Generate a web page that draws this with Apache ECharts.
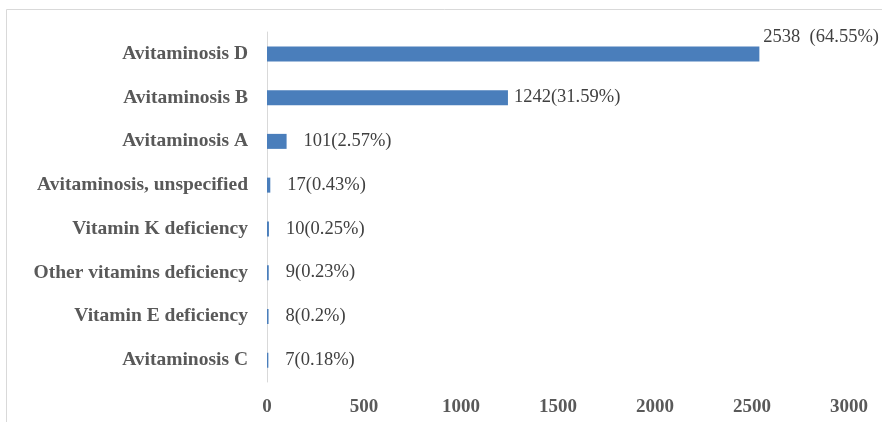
<!DOCTYPE html>
<html>
<head>
<meta charset="utf-8">
<script src="https://cdn.jsdelivr.net/npm/echarts@6/dist/echarts.min.js"></script>
<style>
  html, body { margin: 0; padding: 0; background: #ffffff; }
  #chart { width: 882px; height: 422px; }
</style>
</head>
<body>
<div id="chart"></div>
<script>
// Vitamin deficiency cases by type
const categories = [
  'Avitaminosis D',
  'Avitaminosis B',
  'Avitaminosis A',
  'Avitaminosis, unspecified',
  'Vitamin K deficiency',
  'Other vitamins deficiency',
  'Vitamin E deficiency',
  'Avitaminosis C'
];
const counts = [2538, 1242, 101, 17, 10, 9, 8, 7];
const percents = ['64.55', '31.59', '2.57', '0.43', '0.25', '0.23', '0.2', '0.18'];
const xTicks = [0, 500, 1000, 1500, 2000, 2500, 3000];

const serif = '"Liberation Serif", "Times New Roman", serif';

const seriesData = counts.map((v, i) => {
  const item = { value: v, label: {} };
  if (i === 0) {
    item.label = { distance: 4, offset: [0, -17], formatter: v + '  (' + percents[i] + '%)' };
  } else if (i === 1) {
    item.label = { distance: 6 };
  }
  return item;
});

const chart = echarts.init(document.getElementById('chart'), null, { renderer: 'canvas' });
chart.setOption({
  animation: false,
  backgroundColor: '#ffffff',
  graphic: [{
    type: 'rect',
    shape: { x: 6.5, y: 9.5, width: 900, height: 450 },
    style: { fill: 'none', stroke: '#d9d9d9', lineWidth: 1 },
    silent: true
  }],
  grid: { left: 267, right: 33, top: 32, bottom: 40, containLabel: false },
  xAxis: {
    type: 'value',
    min: xTicks[0],
    max: xTicks[xTicks.length - 1],
    interval: 500,
    axisLine: { show: false },
    axisTick: { show: false },
    splitLine: { show: false },
    axisLabel: {
      margin: 16,
      color: '#595959',
      fontFamily: serif,
      fontWeight: 'bold',
      fontSize: 19,
      formatter: (v) => String(v)
    }
  },
  yAxis: {
    type: 'category',
    inverse: true,
    data: categories,
    axisLine: { show: true, lineStyle: { color: '#d9d9d9', width: 1 } },
    axisTick: { show: false },
    axisLabel: {
      margin: 19,
      color: '#595959',
      fontFamily: serif,
      fontWeight: 'bold',
      fontSize: 19.5
    }
  },
  series: [{
    type: 'bar',
    data: seriesData,
    barWidth: 15,
    itemStyle: { color: '#4a7ebb' },
    label: {
      show: true,
      position: 'right',
      distance: 17,
      color: '#404040',
      fontFamily: serif,
      fontSize: 18.5,
      formatter: (p) => p.value + '(' + percents[p.dataIndex] + '%)'
    }
  }]
});
</script>
</body>
</html>
